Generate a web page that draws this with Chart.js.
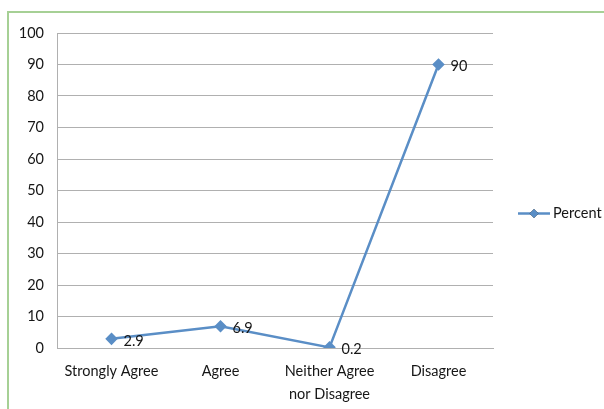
<!DOCTYPE html>
<html>
<head>
<meta charset="utf-8">
<script src="https://cdn.jsdelivr.net/npm/chart.js@4/dist/chart.umd.min.js"></script>
<style>
  html,body{margin:0;padding:0;background:#fff;}
  #wrap{position:relative;width:604px;height:409px;overflow:hidden;}
  #frame{position:absolute;left:7px;top:11px;width:640px;height:440px;border-left:2px solid #a6d095;border-top:2px solid #a6d095;box-sizing:border-box;}
  canvas{position:absolute;left:0;top:0;}
</style>
</head>
<body>
<div id="wrap"><div id="frame"></div><canvas id="chart" width="604" height="409"></canvas></div>
<script>
const categories = ['Strongly Agree', 'Agree', ['Neither Agree', 'nor Disagree'], 'Disagree'];
const percent = [2.9, 6.9, 0.2, 90];
const yTicks = [0, 10, 20, 30, 40, 50, 60, 70, 80, 90, 100];
const seriesName = 'Percent';

const BLUE = '#5a8ec6';
const TEXT = '#161616';
const FONT = {family:'Lato, "Open Sans", sans-serif', size:14.5};

// value labels to the right of each point, plus the little legend on the right
const extras = {
  id:'extras',
  afterDatasetsDraw(chart){
    const ctx = chart.ctx, meta = chart.getDatasetMeta(0);
    ctx.save();
    ctx.font = `${FONT.size}px ${FONT.family}`;
    ctx.fillStyle = TEXT; ctx.textAlign = 'left'; ctx.textBaseline = 'middle';
    meta.data.forEach((pt, i) => ctx.fillText(String(percent[i]), pt.x + 12, pt.y + 2));

    const ly = (chart.chartArea.top + chart.chartArea.bottom) / 2 + 23;
    ctx.strokeStyle = BLUE; ctx.lineWidth = 2.5;
    ctx.beginPath(); ctx.moveTo(518, ly); ctx.lineTo(550, ly); ctx.stroke();
    Chart.helpers.drawPoint(ctx, {pointStyle:'rectRot', radius:4.5, rotation:0}, 534, ly);
    ctx.fillStyle = BLUE; ctx.fill();
    ctx.fillStyle = TEXT;
    ctx.fillText(seriesName, 553, ly);
    ctx.restore();
  }
};

new Chart(document.getElementById('chart'), {
  type:'line',
  data:{labels:categories, datasets:[{
    label:seriesName, data:percent, borderColor:BLUE, backgroundColor:BLUE,
    borderWidth:2.5, tension:0, pointStyle:'rectRot', pointRadius:4.5, pointHoverRadius:4.5
  }]},
  options:{
    responsive:false, animation:false,
    layout:{padding:{top:33, right:111, bottom:0, left:0}},
    plugins:{legend:{display:false}, tooltip:{enabled:false}},
    scales:{
      x:{
        offset:true,
        grid:{display:false, drawTicks:false},
        border:{color:'#b0b0b0', width:1},
        ticks:{color:TEXT, font:{...FONT, lineHeight:1.6}, padding:12, maxRotation:0, autoSkip:false},
        afterFit:s => { s.height = 61; }
      },
      y:{
        min:0, max:100,
        afterBuildTicks:s => { s.ticks = yTicks.map(v => ({value:v})); },
        grid:{color:'#b0b0b0', lineWidth:1, drawTicks:false},
        border:{color:'#b0b0b0', width:1},
        ticks:{color:TEXT, font:FONT, padding:13},
        afterFit:s => { s.width = 57; }
      }
    }
  },
  plugins:[extras]
});
</script>
</body>
</html>
